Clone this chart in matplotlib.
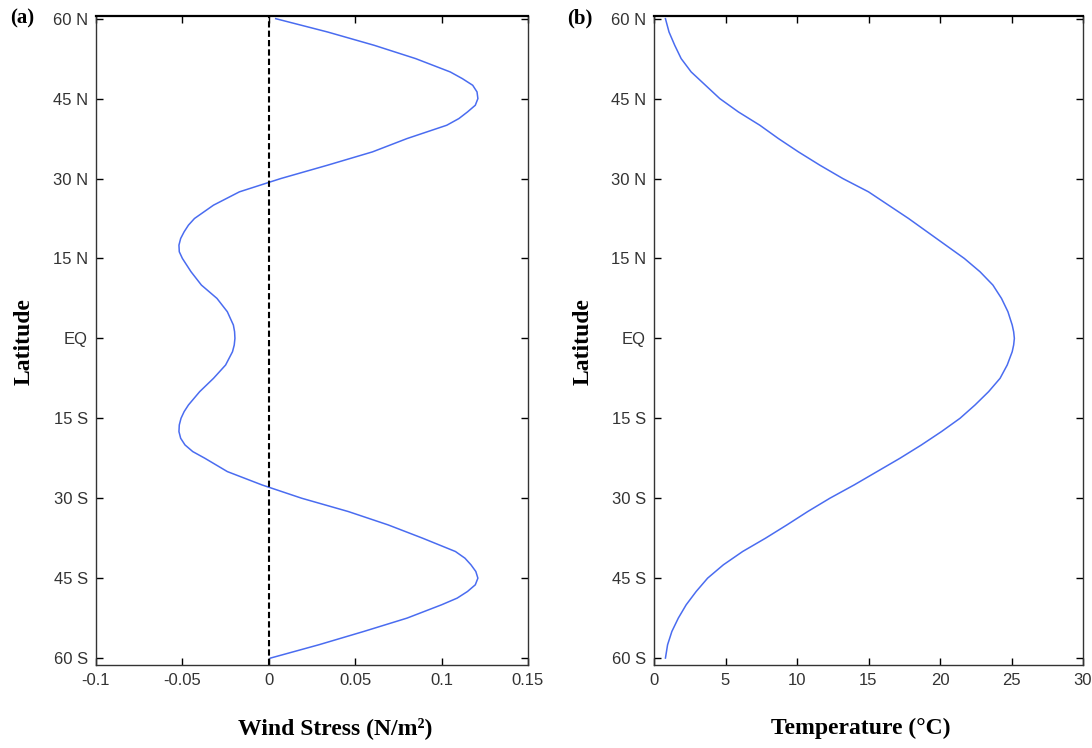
import matplotlib
matplotlib.use("Agg")
import matplotlib.pyplot as plt
from matplotlib import font_manager

# ---------------- data ----------------
lat_ws = [60, 58.75, 57.5, 55, 52.5, 50, 48.75, 47.5, 46.25, 45, 43.75, 42.5, 41.25, 40,
          37.5, 35, 32.5, 30, 27.5, 25, 22.5, 21.25, 20, 18.75, 17.5, 16.25, 15, 12.5,
          10, 7.5, 5, 2.5, 1.25, 0, -1.25, -2.5, -5, -7.5, -10, -12.5, -13.75, -15,
          -16.25, -17.5, -18.75, -20, -21.25, -22.5, -25, -27.5, -30, -32.5, -35,
          -37.5, -40, -41.25, -42.5, -43.75, -45, -46.25, -47.5, -48.75, -50, -52.5,
          -55, -57.5, -58.75, -60]

wind_stress = [0.004, 0.019, 0.034, 0.061, 0.085, 0.105, 0.112, 0.118, 0.1205, 0.121,
               0.1195, 0.115, 0.110, 0.103, 0.080, 0.060, 0.034, 0.007, -0.017, -0.032,
               -0.043, -0.0465, -0.049, -0.051, -0.052, -0.0518, -0.050, -0.045, -0.039,
               -0.030, -0.024, -0.0205, -0.0198, -0.0196, -0.0200, -0.021, -0.025,
               -0.032, -0.040, -0.0465, -0.049, -0.0508, -0.0518, -0.052, -0.051,
               -0.0485, -0.044, -0.037, -0.024, -0.004, 0.019, 0.046, 0.069, 0.089,
               0.108, 0.1135, 0.117, 0.1198, 0.121, 0.1195, 0.115, 0.109, 0.100, 0.080,
               0.055, 0.029, 0.015, 0.001]

lat_t = [60, 57.5, 55, 52.5, 50, 47.5, 45, 42.5, 40, 37.5, 35, 32.5, 30, 27.5, 25, 22.5,
         20, 17.5, 15, 12.5, 10, 7.5, 5, 2.5, 1.25, 0, -1.25, -2.5, -5, -7.5, -10, -12.5,
         -15, -17.5, -20, -22.5, -25, -27.5, -30, -32.5, -35, -37.5, -40, -42.5, -45,
         -47.5, -50, -52.5, -55, -57.5, -60]

temperature = [0.8, 1.05, 1.45, 1.9, 2.6, 3.6, 4.6, 5.9, 7.4, 8.7, 10.1, 11.6, 13.2,
               15.0, 16.4, 17.8, 19.1, 20.4, 21.7, 22.8, 23.7, 24.3, 24.75, 25.05, 25.15,
               25.2, 25.15, 25.05, 24.7, 24.2, 23.4, 22.45, 21.4, 20.1, 18.7, 17.2, 15.6,
               14.0, 12.3, 10.75, 9.3, 7.8, 6.2, 4.85, 3.75, 2.95, 2.25, 1.7, 1.25, 0.95,
               0.8]

lat_ticks = [60, 45, 30, 15, 0, -15, -30, -45, -60]
lat_labels = ["60 N", "45 N", "30 N", "15 N", "EQ", "15 S", "30 S", "45 S", "60 S"]
ws_ticks = [-0.1, -0.05, 0, 0.05, 0.1, 0.15]
ws_labels = ["-0.1", "-0.05", "0", "0.05", "0.1", "0.15"]
t_ticks = [0, 5, 10, 15, 20, 25, 30]
t_labels = ["0", "5", "10", "15", "20", "25", "30"]

# ---------------- style ----------------
avail = {f.name for f in font_manager.fontManager.ttflist}
tick_font = ["Liberation Sans Narrow", "DejaVu Sans"] if "Liberation Sans Narrow" in avail \
    else ["Liberation Sans", "DejaVu Sans"]
serif = ["Liberation Serif", "DejaVu Serif"]
line_color = "#4a6cf0"

fig = plt.figure(figsize=(10.92, 7.48), dpi=100)
ax1 = fig.add_axes([96 / 1092, 1 - 665 / 748, 432 / 1092, 649 / 748])
ax2 = fig.add_axes([654 / 1092, 1 - 665 / 748, 429 / 1092, 649 / 748])

ax1.plot(wind_stress, lat_ws, color=line_color, lw=1.1)
ax1.axvline(0, color="black", ls=(0, (3, 1.5)), lw=1.5)
ax1.set_xlim(-0.1, 0.15)
ax1.set_xticks(ws_ticks)
ax1.set_xticklabels(ws_labels)

ax2.plot(temperature, lat_t, color=line_color, lw=1.1)
ax2.set_xlim(0, 30)
ax2.set_xticks(t_ticks)
ax2.set_xticklabels(t_labels)

for ax in (ax1, ax2):
    ax.set_ylim(-61.3, 60.5)
    ax.set_yticks(lat_ticks)
    ax.set_yticklabels(lat_labels)
    ax.tick_params(direction="in", length=5, width=1, top=True, right=True,
                   labelsize=12, pad=6, colors="black")
    for lbl in ax.get_xticklabels() + ax.get_yticklabels():
        lbl.set_family(tick_font)
        lbl.set_color("#333333")
    for s in ax.spines.values():
        s.set_linewidth(1.0)
        s.set_color("#333333")
    ax.spines["top"].set_linewidth(1.6)
    ax.spines["top"].set_color("black")

fig.text(24 / 1092, 1 - 342 / 748, "Latitude", rotation=90, ha="center", va="center",
         fontsize=17, fontweight="bold", family=serif)
fig.text(583 / 1092, 1 - 342 / 748, "Latitude", rotation=90, ha="center", va="center",
         fontsize=17, fontweight="bold", family=serif)
fig.text(335 / 1092, 1 - 728 / 748, "Wind Stress (N/m²)", ha="center",
         va="center", fontsize=17, fontweight="bold", family=serif)
fig.text(861 / 1092, 1 - 728 / 748, "Temperature (°C)", ha="center", va="center",
         fontsize=17, fontweight="bold", family=serif)
fig.text(22 / 1092, 1 - 18 / 748, "(a)", ha="center", va="center", fontsize=15,
         fontweight="bold", family=serif)
fig.text(580 / 1092, 1 - 18 / 748, "(b)", ha="center", va="center", fontsize=15,
         fontweight="bold", family=serif)

fig.savefig("out.png", dpi=100, facecolor="white")
